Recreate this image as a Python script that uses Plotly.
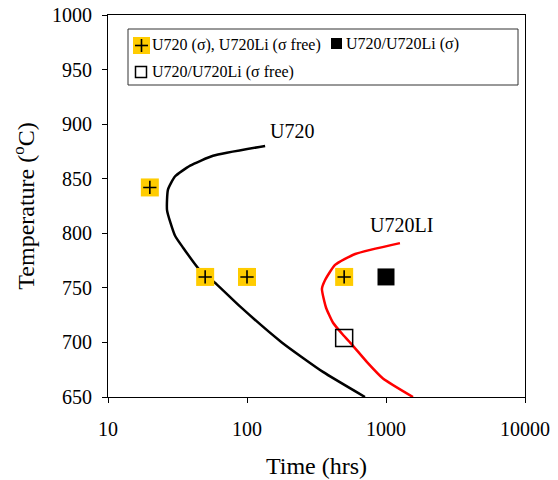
import numpy as np
import plotly.graph_objects as go

# Time-temperature curves (time in hrs, temperature in deg C)
u720_time = [135, 57, 39, 30.3, 27, 26.6, 30.3, 34.6, 45.9, 60.8, 89, 178, 352, 706]
u720_temp = [880, 871, 862, 852, 840, 821, 798, 787, 766, 753, 733, 700, 673, 650]

u720li_time = [1260, 600, 430, 364, 346, 370, 416, 490, 569, 730, 951, 1564]
u720li_temp = [791, 781, 771, 757, 749, 732, 718, 707, 698, 682, 667, 650]

# Experimental observations
sigma_mixed_time = [20, 50, 100, 500]
sigma_mixed_temp = [842, 760, 760, 760]

sigma_time = [1000]
sigma_temp = [760]

sigma_free_time = [500]
sigma_free_temp = [704]

x_tick_vals = [10, 100, 1000, 10000]
x_tick_text = ["10", "100", "1000", "10000"]
y_tick_vals = [650, 700, 750, 800, 850, 900, 950, 1000]

legend_labels = ["U720 (σ), U720Li (σ free)", "U720/U720Li (σ)", "U720/U720Li (σ free)"]
curve_labels = ["U720", "U720LI"]
curve_label_time = [210, 1283]
curve_label_temp = [894, 808]

FONT = "Liberation Serif, Times New Roman, serif"
GOLD = "#FFCC00"

W, H = 558, 480
ML, MR, MT, MB = 108, 33, 15, 83
PW, PH = W - ML - MR, H - MT - MB


def fx(xp):
    return (xp - ML) / PW


def fy(yp):
    return (H - MB - yp) / PH


fig = go.Figure()

fig.add_trace(go.Scatter(
    x=u720_time, y=u720_temp, mode="lines",
    line=dict(color="black", width=2.5, shape="spline", smoothing=0.5),
    showlegend=False, hoverinfo="skip"))
fig.add_trace(go.Scatter(
    x=u720li_time, y=u720li_temp, mode="lines",
    line=dict(color="#FF0000", width=2.5, shape="spline", smoothing=0.5),
    showlegend=False, hoverinfo="skip"))

# gold squares with a black cross on top
fig.add_trace(go.Scatter(
    x=sigma_mixed_time, y=sigma_mixed_temp, mode="markers",
    marker=dict(symbol="square", size=18, color=GOLD, line=dict(width=0)),
    showlegend=False))
fig.add_trace(go.Scatter(
    x=sigma_mixed_time, y=sigma_mixed_temp, mode="markers",
    marker=dict(symbol="cross-thin", size=9.5, color="black",
                line=dict(width=1.6, color="black")),
    showlegend=False))
fig.add_trace(go.Scatter(
    x=sigma_time, y=sigma_temp, mode="markers",
    marker=dict(symbol="square", size=17, color="black", line=dict(width=0)),
    showlegend=False))
fig.add_trace(go.Scatter(
    x=sigma_free_time, y=sigma_free_temp, mode="markers",
    marker=dict(symbol="square-open", size=17, color="black",
                line=dict(width=1.5, color="black")),
    showlegend=False))

annotations = []
for lbl, t, temp in zip(curve_labels, curve_label_time, curve_label_temp):
    annotations.append(dict(
        x=np.log10(t), y=temp, xref="x", yref="y", text=lbl, showarrow=False,
        font=dict(family=FONT, size=20, color="black")))

# legend box drawn by hand
shapes = [
    dict(type="rect", xref="paper", yref="paper",
         x0=fx(128), x1=fx(518), y0=fy(85), y1=fy(29),
         line=dict(color="#333333", width=1), fillcolor="white", layer="above"),
    dict(type="rect", xref="paper", yref="paper",
         x0=fx(133), x1=fx(150), y0=fy(54), y1=fy(37),
         line=dict(width=0), fillcolor=GOLD, layer="above"),
    dict(type="line", xref="paper", yref="paper",
         x0=fx(135), x1=fx(148), y0=fy(45.5), y1=fy(45.5),
         line=dict(color="black", width=1.6), layer="above"),
    dict(type="line", xref="paper", yref="paper",
         x0=fx(141.5), x1=fx(141.5), y0=fy(39), y1=fy(52),
         line=dict(color="black", width=1.6), layer="above"),
    dict(type="rect", xref="paper", yref="paper",
         x0=fx(331), x1=fx(342), y0=fy(49), y1=fy(38),
         line=dict(width=0), fillcolor="black", layer="above"),
    dict(type="rect", xref="paper", yref="paper",
         x0=fx(135.5), x1=fx(146.5), y0=fy(77.5), y1=fy(66.5),
         line=dict(color="black", width=1.5), fillcolor="white", layer="above"),
]

legend_pos = [(150, 45.5), (344, 44), (150, 72)]
for lbl, (lx, ly) in zip(legend_labels, legend_pos):
    annotations.append(dict(
        x=fx(lx), y=fy(ly), xref="paper", yref="paper", text=lbl,
        showarrow=False, xanchor="left", yanchor="middle",
        font=dict(family=FONT, size=16, color="black")))

fig.update_layout(
    width=W, height=H,
    margin=dict(l=ML, r=MR, t=MT, b=MB, autoexpand=False),
    paper_bgcolor="white", plot_bgcolor="white",
    font=dict(family=FONT, color="black"),
    shapes=shapes, annotations=annotations, showlegend=False,
)

fig.update_xaxes(
    type="log", range=[1, 4], tickvals=x_tick_vals, ticktext=x_tick_text,
    showgrid=False, zeroline=False, showline=True, linecolor="black",
    linewidth=1, mirror=True, ticks="outside", ticklen=5, tickcolor="black",
    tickfont=dict(family=FONT, size=20, color="black"), ticklabelstandoff=9,
    title=dict(text="Time (hrs)", font=dict(family=FONT, size=24, color="black"),
               standoff=18),
    automargin=False,
)
fig.update_yaxes(
    range=[650, 1000], tickvals=y_tick_vals,
    showgrid=False, zeroline=False, showline=True, linecolor="black",
    linewidth=1, mirror=True, ticks="outside", ticklen=5, tickcolor="black",
    tickfont=dict(family=FONT, size=20, color="black"), ticklabelstandoff=6,
    title=dict(text="Temperature (<sup>o</sup>C)",
               font=dict(family=FONT, size=24, color="black"), standoff=10),
    automargin=False,
)

fig.write_html("out.html")
